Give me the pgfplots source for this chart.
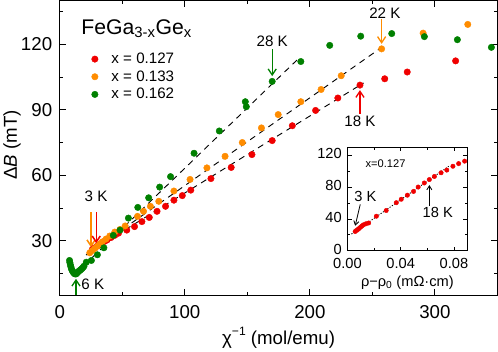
\documentclass[border=0pt]{standalone}
\usepackage{pgfplots}
\pgfplotsset{compat=1.18}
\usepackage{fontspec}
\setmainfont{Liberation Sans}
\usetikzlibrary{arrows.meta}
\definecolor{cred}{RGB}{240,0,0}
\definecolor{corange}{RGB}{255,140,0}
\definecolor{cgreen}{RGB}{0,128,0}
\begin{document}
\begin{tikzpicture}[>={Straight Barb[length=6bp,width=8bp]}]
\begin{axis}[name=main,
  scale only axis, width=432bp, height=291bp,
  xmin=0, xmax=350, ymin=5, ymax=140,
  xtick={0,100,200,300}, minor xtick={50,150,250},
  ytick={30,60,90,120}, minor ytick={15,45,75,105,135},
  tick align=inside, major tick length=6bp, minor tick length=3.5bp,
  axis line style={line width=1.2bp},
  every tick/.style={black, line width=1bp},
  /pgf/number format/assume math mode=true,
  tick label style={font=\fontsize{18.5}{20}\selectfont},
  xticklabel style={yshift=-6bp},
  yticklabel style={xshift=-4bp},
  xlabel={χ\raisebox{0.9ex}{\fontsize{12}{12}\selectfont −1} (mol/emu)},
  ylabel={Δ\textit{B} (mT)},
  every axis x label/.style={at={(axis description cs:0.5,-0.1436)}, anchor=center, font=\fontsize{18.5}{20}\selectfont},
  every axis y label/.style={at={(axis description cs:-0.109,0.51)}, rotate=90, anchor=center, font=\fontsize{18.5}{20}\selectfont},
  clip=false,
  legend style={at={(axis cs:25,117)}, anchor=north west, draw=none, fill=none,
    font=\fontsize{15}{17}\selectfont, row sep=1.5bp, inner sep=0pt,
    nodes={inner sep=2bp}},
  legend cell align=left,
  legend image code/.code={\draw[#1] plot coordinates {(0.12cm,0cm)}; \path (0cm,0cm) (0.62cm,0cm);},
]
% x = 0.127 (red)
\addplot[only marks, mark=*, mark size=3.2bp, color=cred] coordinates {
(26,26) (28,26.8) (30,27.6) (32,28.3) (34,29) (36,29.8) (38,30.5) (41,31.5) (44,32.5) (47,33.5)
(53.6,34.9) (59.8,36.5) (65.7,38.8) (71.6,40.7) (77.8,43.5) (84.6,45.8) (91.3,48.6) (98.0,50.7)
(104.8,53.2) (120.9,58.5) (137.1,63.6) (153.7,69.5) (169.9,75.9) (186.0,82.7) (204.6,89.7)
(222.4,95.4) (240.1,101.3) (259.9,104.2) (277.9,107.3) (316.6,112.4)
};
\addlegendentry{x = 0.127}
% x = 0.133 (orange)
\addplot[only marks, mark=*, mark size=3.2bp, color=corange] coordinates {
(24,24.5) (26,25.5) (28,26.5) (30,27.5) (32,28.5) (34,29.5) (37,30.8) (40,32.2) (44,34)
(48.2,35.2) (52.3,36.8) (62.2,41.2) (67.0,43.5) (72.5,45.8) (79.2,48.1) (91.3,52.8) (104.2,58.1)
(117.7,63.4) (132.2,68.7) (146.0,75.0) (161.3,81.7) (174.7,87.8) (192.8,93.7) (209.0,99.3)
(225.1,105.6) (257.4,117.9) (290.6,125.1) (326.3,129.1)
};
\addlegendentry{x = 0.133}
% x = 0.162 (green)
\addplot[only marks, mark=*, mark size=3.2bp, color=cgreen] coordinates {
(7.8,21.0) (8.1,20.0) (8.5,19.0) (8.9,18.1) (9.3,17.2) (9.9,16.5) (10.5,15.8) (11.2,15.3) (11.9,14.9)
(12.6,14.8) (13.2,14.9) (13.9,15.3) (14.5,15.7) (15.3,16.1) (16.2,16.5) (17.0,16.9) (17.8,17.3)
(18.6,17.8) (19.4,18.4) (21.2,20.2) (25.3,21.0) (30.1,23.6) (35.3,26.8) (42.8,32.5)
(48.2,34.9) (54.9,40.4) (62.4,45.3) (71.1,49.7) (79.9,54.6) (88.6,59.4) (107.4,70.1)
(127.6,80.3) (148.4,93.7) (149.2,91.4) (169.9,103.0) (192.8,112.1) (215.9,119.5) (240.7,123.7)
(265.5,124.9) (291.6,123.5) (318.0,122.1) (345.2,118.6)
};
\addlegendentry{x = 0.162}
% dashed linear fits
\addplot[black, dashed, line width=0.9bp, dash pattern=on 6bp off 5bp] coordinates {(22,24.4) (243,102.3)};
\addplot[black, dashed, line width=0.9bp, dash pattern=on 6bp off 5bp] coordinates {(21,23.5) (258,118.8)};
\addplot[black, dashed, line width=0.9bp, dash pattern=on 6bp off 5bp] coordinates {(13,15.2) (191,113.5)};
% title
\node[anchor=base west, font=\fontsize{21}{24}\selectfont] at (axis cs:14.5,124.6)
  {FeGa\textsubscript{3-x}Ge\textsubscript{x}};
% arrows and labels
\draw[->, cgreen, line width=1.3bp] (axis cs:169.9,117.7) -- (axis cs:169.9,105.4);
\node[font=\fontsize{15}{17}\selectfont] at (axis cs:169.9,121.5) {28 K};
\draw[->, corange, line width=1.3bp] (axis cs:257.4,131.5) -- (axis cs:257.4,120.2);
\node[font=\fontsize{15}{17}\selectfont] at (axis cs:260,134.4) {22 K};
\draw[->, cred, line width=1.3bp] (axis cs:240.1,88.3) -- (axis cs:240.1,99.0);
\node[font=\fontsize{15}{17}\selectfont] at (axis cs:240.1,84.8) {18 K};
\draw[->, corange, line width=1.5bp] (axis cs:25.0,43.0) -- (axis cs:25.0,27.0);
\draw[->, cred, line width=1.5bp] (axis cs:29.2,43.0) -- (axis cs:29.2,28.8);
\node[font=\fontsize{15}{17}\selectfont] at (axis cs:29,50.5) {3 K};
\draw[->, cgreen, line width=1.3bp] (axis cs:13,5) -- (axis cs:13,12.6);
\node[anchor=west, font=\fontsize{15}{17}\selectfont] at (axis cs:14.5,10) {6 K};
\end{axis}
\begin{axis}[at={(284bp,44bp)}, anchor=south west,
  scale only axis, width=118.3bp, height=102.3bp,
  xmin=0, xmax=0.09, ymin=0, ymax=130,
  xtick={0,0.04,0.08}, minor xtick={0.02,0.06},
  ytick={0,40,80,120}, minor ytick={20,60,100},
  scaled x ticks=false,
  tick align=inside, major tick length=4bp, minor tick length=2.5bp,
  axis line style={line width=1bp},
  every tick/.style={black, line width=0.8bp},
  axis background/.style={fill=white},
  /pgf/number format/assume math mode=true,
  tick label style={font=\fontsize{14.5}{16}\selectfont, inner sep=0.5bp},
  xticklabel style={yshift=-6.5bp, /pgf/number format/fixed, /pgf/number format/fixed zerofill, /pgf/number format/precision=2},
  yticklabel style={xshift=-5bp, yshift=1.5bp},
  xlabel={ρ−ρ\textsubscript{0} (mΩ·cm)},
  every axis x label/.style={at={(axis description cs:0.5,-0.31)}, anchor=center, font=\fontsize{14.5}{16}\selectfont},
  clip=false,
]
\addplot[only marks, mark=*, mark size=2.2bp, color=cred] coordinates {
(0.0058,24.3) (0.0068,25.6) (0.0078,26.8) (0.0088,28.1) (0.0099,29.8) (0.0110,31.4) (0.0121,32.7)
(0.0140,34.0) (0.0159,34.9) (0.0217,43.4) (0.0291,50.6) (0.0367,60.4) (0.0404,64.7) (0.0450,69.8)
(0.0496,74.5) (0.0531,80.0) (0.0577,85.1) (0.0615,89.4) (0.0653,93.3) (0.0703,97.9) (0.0746,101.3)
(0.0792,106.1) (0.0835,109.4) (0.0880,112.5)
};
\addplot[black, line width=0.8bp, dash pattern=on 1.2bp off 1.5bp] coordinates {(0.003,21) (0.076,106)};
\node[anchor=west, font=\fontsize{11}{12}\selectfont] at (axis cs:0.011,109.4) {x=0.127};
\draw[->, black, line width=0.8bp, >={Straight Barb[length=4bp,width=5bp]}] (axis cs:0.0096,58.3) -- (axis cs:0.0058,31.4);
\node[font=\fontsize{14.5}{16}\selectfont] at (axis cs:0.0134,68) {3 K};
\draw[->, black, line width=0.8bp, >={Straight Barb[length=4bp,width=5bp]}] (axis cs:0.0615,56.2) -- (axis cs:0.0615,82.5);
\node[font=\fontsize{14.5}{16}\selectfont] at (axis cs:0.0678,47.7) {18 K};
\end{axis}
\end{tikzpicture}
\end{document}
